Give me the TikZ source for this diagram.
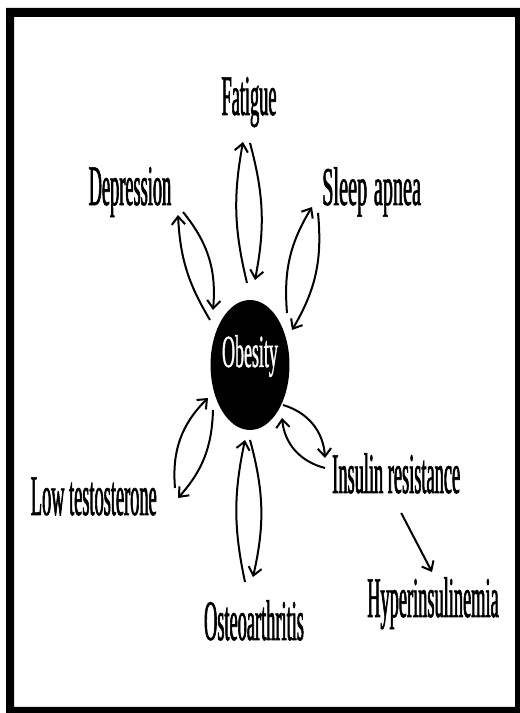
\documentclass[tikz,border=0pt]{standalone}
\usepackage{fontspec}
\usetikzlibrary{shapes.geometric,arrows.meta}
\newfontfamily\labelfont[FakeStretch=0.32,FakeBold=1]{Liberation Serif}
\newfontfamily\widefont[FakeStretch=0.37,FakeBold=1]{Liberation Serif}
\newfontfamily\hubfont[FakeStretch=0.39,FakeBold=0.8]{Liberation Serif}

\begin{document}
\begin{tikzpicture}[
    x=0.75pt, y=0.75pt,
    lbl/.style={inner sep=0pt, font=\labelfont\fontsize{43}{50}\selectfont},
    hub/.style={ellipse, fill=black, text=white, inner sep=0pt,
      minimum width=57.75pt, minimum height=97.5pt,
      text height=20pt, text depth=17pt,
      font=\hubfont\fontsize{34.5}{40}\selectfont},
    arr/.style={-{Straight Barb[length=6pt,width=10pt]}, line width=1.5pt}
  ]
    % frame
    \fill[white] (0,0) rectangle (520,713);
    \fill[black, even odd rule] (6,0) rectangle (520,705) (14,6) rectangle (515,696);

    \node[hub] (ob) at (250,348) {Obesity};
    \node[lbl, anchor=base] (fat) at (249,598) {Fatigue};
    \node[lbl, anchor=base] (dep) at (130,508) {Depression};
    \node[lbl, anchor=base west, font=\widefont\fontsize{41}{50}\selectfont] (slp) at (322,508) {Sleep\hspace{5pt}apnea};
    \node[lbl, anchor=base west] (ins) at (332,220) {Insulin resistance};
    \node[lbl, anchor=base east] (lowt) at (157,198) {Low testosterone};
    \node[lbl, anchor=base] (hyp) at (433,96) {Hyperinsulinemia};
    \node[lbl, anchor=base] (ost) at (254,73) {Osteoarthritis};

    % pairs of arrows
    \draw[arr] ([shift={(-3,82)}]ob.center) to[bend left=12] ([shift={(-6,-27)}]fat.base);
    \draw[arr] ([shift={(1,-28)}]fat.base) to[bend left=13] ([shift={(5,85)}]ob.center);

    \draw[arr] ([shift={(-40,45)}]ob.center) to[bend left=14] ([shift={(48,-10)}]dep.base);
    \draw[arr] ([shift={(53,-7)}]dep.base) to[bend left=22] ([shift={(-37,55)}]ob.center);

    \draw[arr] ([shift={(37,52)}]ob.center) to[bend left=18] ([shift={(-10,-2)}]slp.base west);
    \draw[arr] ([shift={(-4,-8)}]slp.base west) to[bend left=18] ([shift={(42,35)}]ob.center);

    \draw[arr] ([shift={(33,-40)}]ob.center) to[bend left=35] ([shift={(-7,35)}]ins.base west);
    \draw[arr] ([shift={(-7,25)}]ins.base west) to[bend left=35] ([shift={(32,-53)}]ob.center);

    \draw[arr] ([shift={(18,27)}]lowt.base east) to[bend left=25] ([shift={(-42,-33)}]ob.center);
    \draw[arr] ([shift={(-37,-45)}]ob.center) to[bend left=20] ([shift={(21,17)}]lowt.base east);

    \draw[arr] ([shift={(-9,58)}]ost.base) to[bend left=12] ([shift={(-5,-75)}]ob.center);
    \draw[arr] ([shift={(0,-75)}]ob.center) to[bend left=14] ([shift={(-1,63)}]ost.base);

    \draw[arr] ([shift={(5,-20)}]ins.base) -- ([shift={(-1,45)}]hyp.base);
\end{tikzpicture}
\end{document}
